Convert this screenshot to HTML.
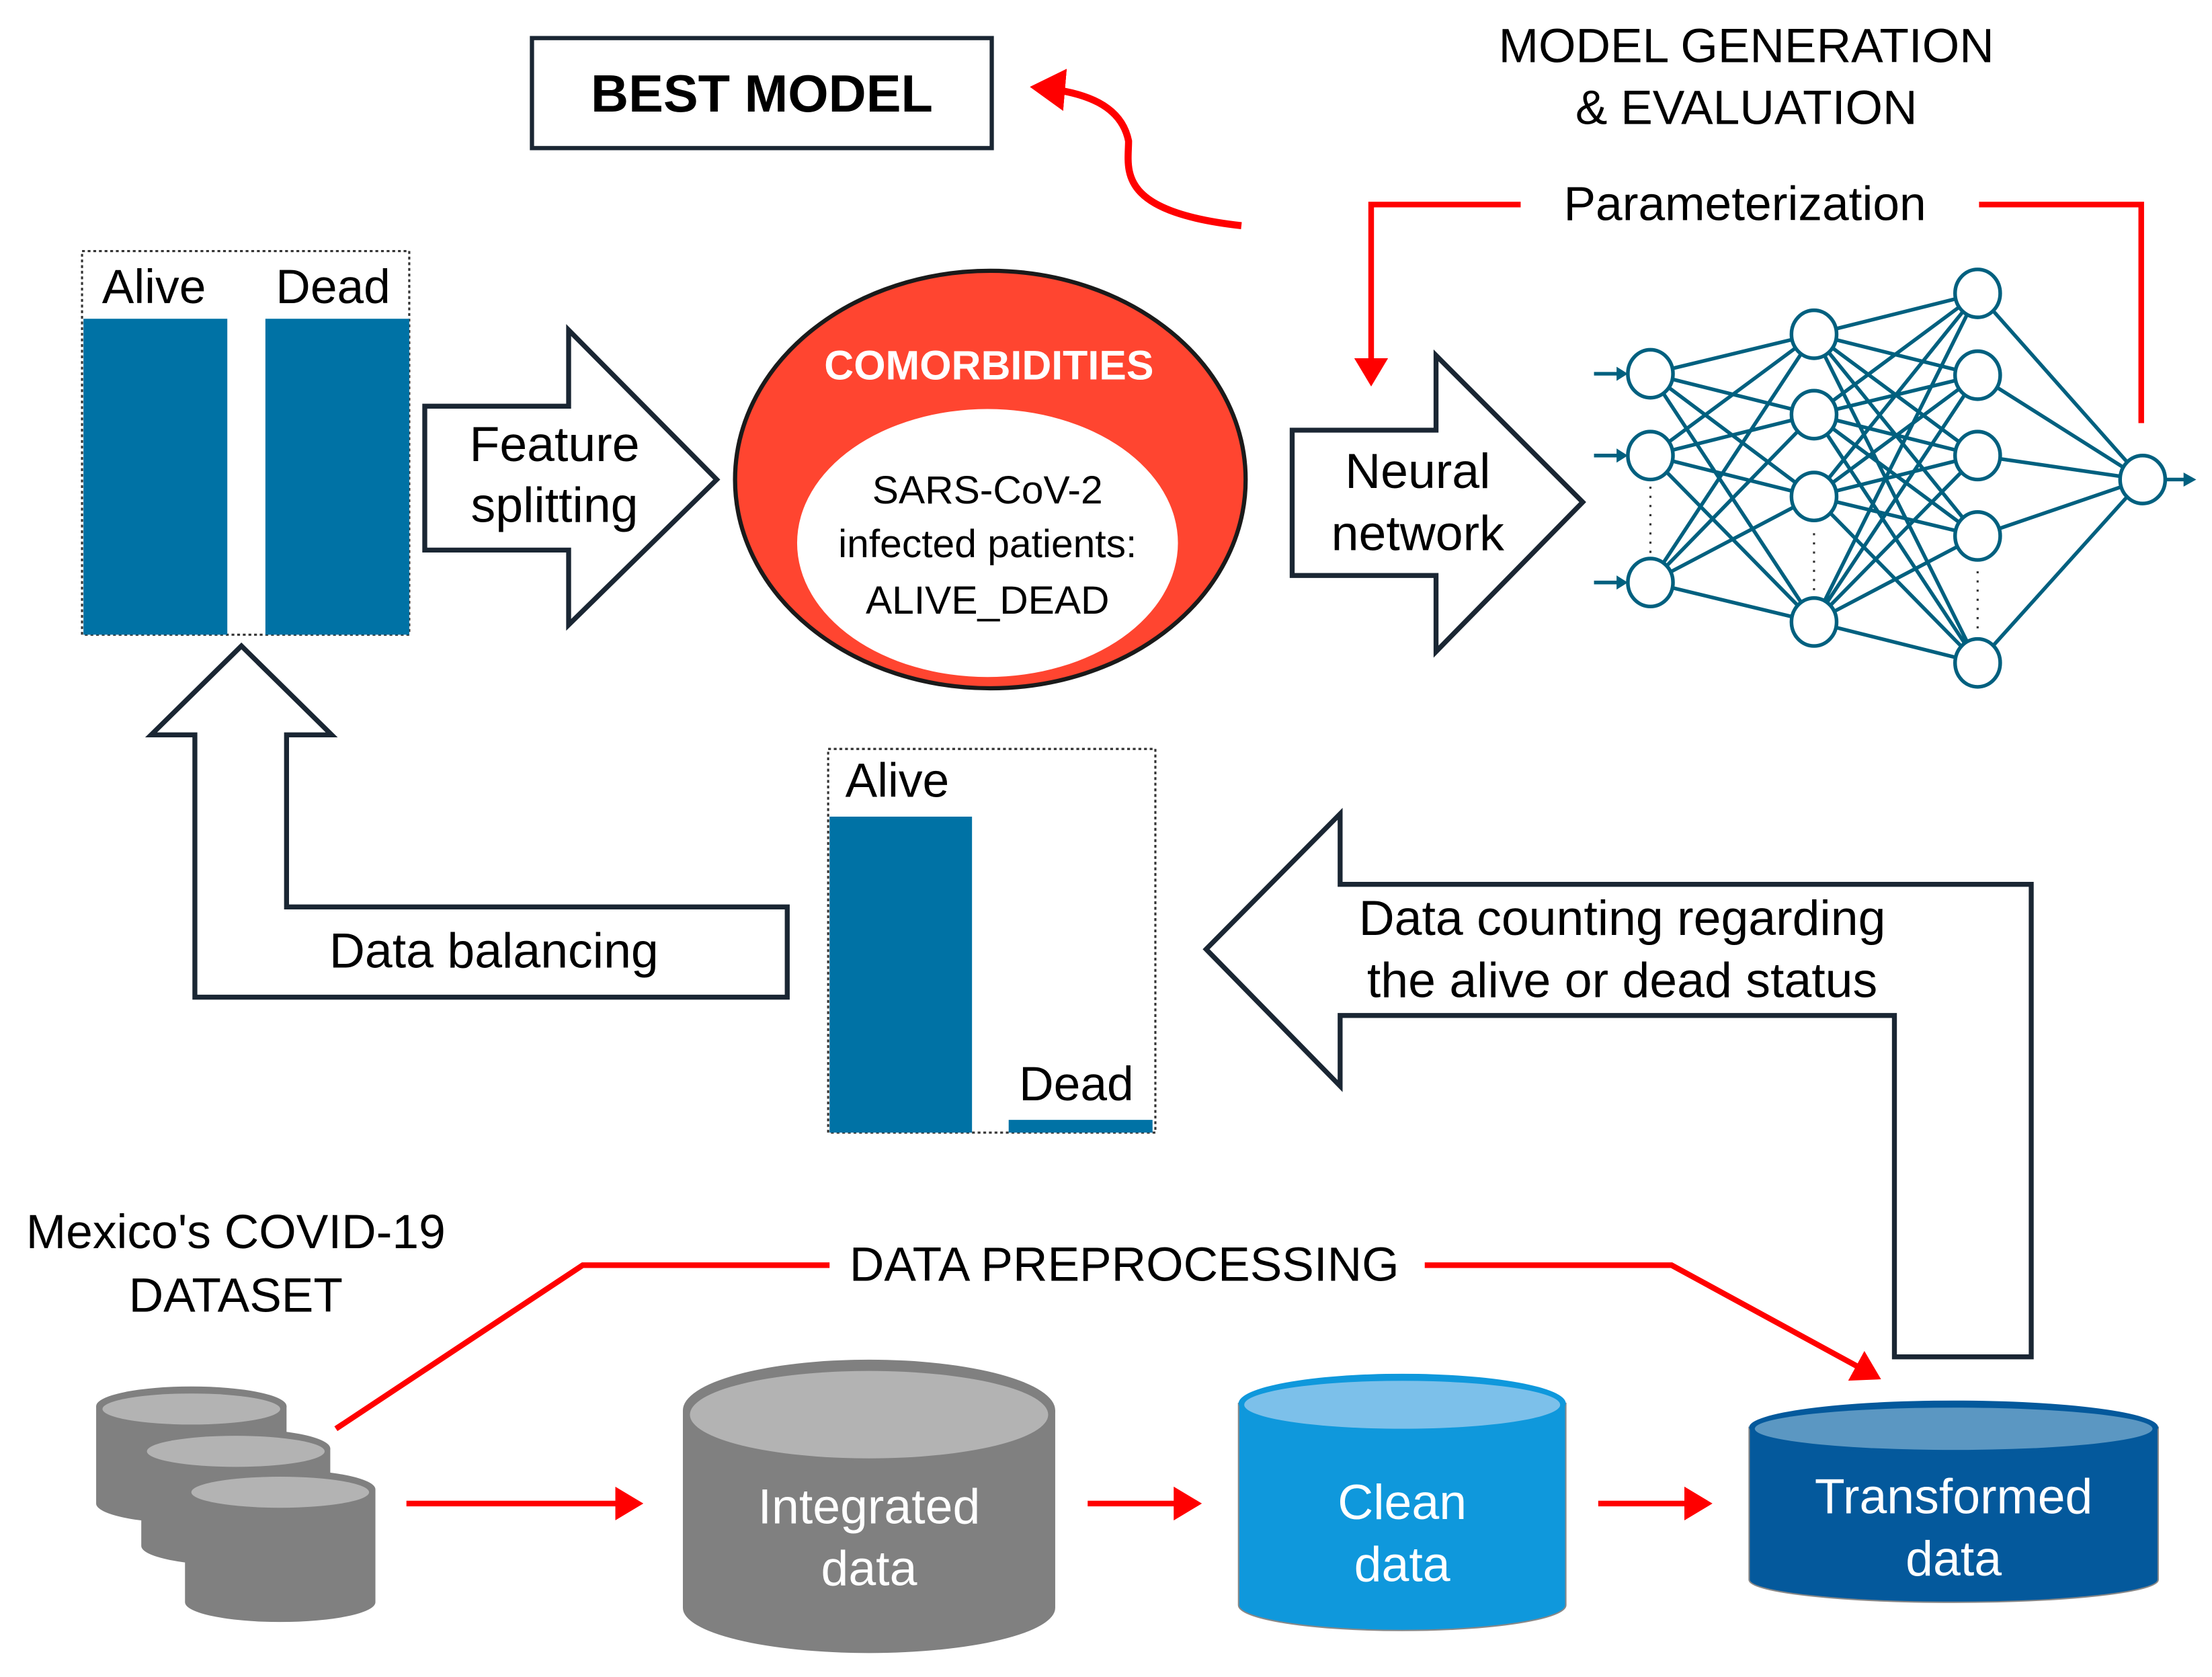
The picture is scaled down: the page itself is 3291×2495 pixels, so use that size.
<!DOCTYPE html>
<html><head><meta charset="utf-8"><style>html,body{margin:0;padding:0;background:#fff}svg{display:block}</style></head>
<body>
<svg width="3291" height="2495" viewBox="0 0 1568 1189" xmlns="http://www.w3.org/2000/svg" font-family="Liberation Sans, sans-serif">
<defs>
<marker id="ra" markerWidth="6" markerHeight="6" refX="4" refY="3" orient="auto" markerUnits="strokeWidth"><path d="M0,0 L5,3 L0,6 z" fill="#f00"/></marker>
</defs>
<!-- top titles -->
<text x="1238" y="44" font-size="34" text-anchor="middle">MODEL GENERATION</text>
<text x="1238" y="88" font-size="34" text-anchor="middle">&amp; EVALUATION</text>
<rect x="377" y="27" width="326" height="78" fill="#fff" stroke="#1a2633" stroke-width="3"/>
<text x="540" y="79" font-size="37" font-weight="bold" text-anchor="middle">BEST MODEL</text>
<path d="M880,160 C790,150 800,120 800,100 C795,75 770,65 735,62" fill="none" stroke="#f00" stroke-width="5" marker-end="url(#ra)"/>
<text x="1237" y="156" font-size="34" text-anchor="middle">Parameterization</text>
<path d="M1078,145 L972,145 L972,270" fill="none" stroke="#f00" stroke-width="4" marker-end="url(#ra)"/>
<path d="M1403,145 L1518,145 L1518,300" fill="none" stroke="#f00" stroke-width="4"/>
<!-- bar chart 1 -->
<rect x="58" y="178" width="232" height="272" fill="#fff" stroke="#333" stroke-width="1.5" stroke-dasharray="2,2"/>
<rect x="59" y="226" width="102" height="224" fill="#0072a5"/>
<rect x="188" y="226" width="102" height="224" fill="#0072a5"/>
<text x="109" y="215" font-size="34" text-anchor="middle">Alive</text>
<text x="236" y="215" font-size="34" text-anchor="middle">Dead</text>
<!-- feature splitting arrow -->
<polygon points="301,288 403,288 403,234 508,340 403,443 403,390 301,390" fill="#fff" stroke="#1a2633" stroke-width="3.5"/>
<text x="393" y="327" font-size="35" text-anchor="middle">Feature</text>
<text x="393" y="370" font-size="35" text-anchor="middle">splitting</text>
<!-- comorbidities -->
<ellipse cx="702" cy="340" rx="181" ry="148" fill="#ff4530" stroke="#1a1a1a" stroke-width="3"/>
<ellipse cx="700" cy="385" rx="135" ry="95" fill="#fff"/>
<text x="701" y="269" font-size="29" font-weight="bold" fill="#fff" text-anchor="middle">COMORBIDITIES</text>
<text x="700" y="357" font-size="28" text-anchor="middle">SARS-CoV-2</text>
<text x="700" y="395" font-size="28" text-anchor="middle">infected patients:</text>
<text x="700" y="435" font-size="28" text-anchor="middle">ALIVE_DEAD</text>
<!-- neural network arrow -->
<polygon points="916,305 1018,305 1018,252 1122,356 1018,462 1018,408 916,408" fill="#fff" stroke="#1a2633" stroke-width="3.5"/>
<text x="1005" y="346" font-size="35" text-anchor="middle">Neural</text>
<text x="1005" y="390" font-size="35" text-anchor="middle">network</text>
<!-- NN -->
<g stroke="#00607f" stroke-width="2.6" fill="none">
<path d="M1170,265 L1286,237 M1170,265 L1286,294 M1170,265 L1286,352 M1170,265 L1286,441 M1170,323 L1286,237 M1170,323 L1286,294 M1170,323 L1286,352 M1170,323 L1286,441 M1170,413 L1286,237 M1170,413 L1286,294 M1170,413 L1286,352 M1170,413 L1286,441"/>
<path d="M1286,237 L1402,208 M1286,237 L1402,266 M1286,237 L1402,323 M1286,237 L1402,380 M1286,237 L1402,470 M1286,294 L1402,208 M1286,294 L1402,266 M1286,294 L1402,323 M1286,294 L1402,380 M1286,294 L1402,470 M1286,352 L1402,208 M1286,352 L1402,266 M1286,352 L1402,323 M1286,352 L1402,380 M1286,352 L1402,470 M1286,441 L1402,208 M1286,441 L1402,266 M1286,441 L1402,323 M1286,441 L1402,380 M1286,441 L1402,470"/>
<path d="M1402,208 L1519,340 M1402,266 L1519,340 M1402,323 L1519,340 M1402,380 L1519,340 M1402,470 L1519,340"/>
<path d="M1130,265 L1148,265 M1130,323 L1148,323 M1130,413 L1148,413 M1535,340 L1550,340"/>
</g>
<g fill="#00607f">
<path d="M1146,260 L1154,265 L1146,270 z"/><path d="M1146,318 L1154,323 L1146,328 z"/><path d="M1146,408 L1154,413 L1146,418 z"/><path d="M1548,335 L1557,340 L1548,345 z"/>
</g>
<g fill="#fff" stroke="#00607f" stroke-width="2.6">
<ellipse cx="1170" cy="265" rx="16" ry="17"/><ellipse cx="1170" cy="323" rx="16" ry="17"/><ellipse cx="1170" cy="413" rx="16" ry="17"/>
<ellipse cx="1286" cy="237" rx="16" ry="17"/><ellipse cx="1286" cy="294" rx="16" ry="17"/><ellipse cx="1286" cy="352" rx="16" ry="17"/><ellipse cx="1286" cy="441" rx="16" ry="17"/>
<ellipse cx="1402" cy="208" rx="16" ry="17"/><ellipse cx="1402" cy="266" rx="16" ry="17"/><ellipse cx="1402" cy="323" rx="16" ry="17"/><ellipse cx="1402" cy="380" rx="16" ry="17"/><ellipse cx="1402" cy="470" rx="16" ry="17"/>
<ellipse cx="1519" cy="340" rx="16" ry="17"/>
</g>
<g stroke="#333" stroke-width="1.5" stroke-dasharray="1.5,5"><path d="M1170,345 L1170,392 M1286,378 L1286,420 M1402,405 L1402,450"/></g>
<!-- data balancing -->
<polygon points="138,707 138,521 107,521 171,458 235,521 203,521 203,643 558,643 558,707" fill="#fff" stroke="#1a2633" stroke-width="3.5"/>
<text x="350" y="686" font-size="35" text-anchor="middle">Data balancing</text>
<!-- bar chart 2 -->
<rect x="587" y="531" width="232" height="272" fill="#fff" stroke="#333" stroke-width="1.5" stroke-dasharray="2,2"/>
<rect x="588" y="579" width="101" height="224" fill="#0072a5"/>
<rect x="715" y="794" width="102" height="9" fill="#0072a5"/>
<text x="636" y="565" font-size="34" text-anchor="middle">Alive</text>
<text x="763" y="780" font-size="34" text-anchor="middle">Dead</text>
<!-- data counting arrow -->
<polygon points="855,673 950,577 950,627 1440,627 1440,962 1343,962 1343,720 950,720 950,770" fill="#fff" stroke="#1a2633" stroke-width="3.5"/>
<text x="1150" y="663" font-size="35" text-anchor="middle">Data counting regarding</text>
<text x="1150" y="707" font-size="35" text-anchor="middle">the alive or dead status</text>
<!-- preprocessing -->
<text x="167" y="885" font-size="34" text-anchor="middle">Mexico's COVID-19</text>
<text x="167" y="930" font-size="34" text-anchor="middle">DATASET</text>
<text x="797" y="908" font-size="34" text-anchor="middle">DATA PREPROCESSING</text>
<path d="M238,1013 L413,897 L588,897" fill="none" stroke="#f00" stroke-width="4"/>
<path d="M1010,897 L1185,897 L1330,976" fill="none" stroke="#f00" stroke-width="4" marker-end="url(#ra)"/>
<!-- cylinders -->
<g>
<path d="M68,997 L68,1066 A67,14 0 0 0 203,1066 L203,997 Z" fill="#808080"/><ellipse cx="135.5" cy="997" rx="67.5" ry="14" fill="#808080"/><ellipse cx="135.5" cy="999" rx="63" ry="11" fill="#b3b3b3"/>
<path d="M100,1027 L100,1096 A67,14 0 0 0 234,1096 L234,1027 Z" fill="#808080"/><ellipse cx="167" cy="1027" rx="67" ry="14" fill="#808080"/><ellipse cx="167" cy="1029" rx="63" ry="11" fill="#b3b3b3"/>
<path d="M131,1056 L131,1136 A67.5,14 0 0 0 266,1136 L266,1056 Z" fill="#808080"/><ellipse cx="198.5" cy="1056" rx="67.5" ry="14" fill="#808080"/><ellipse cx="198.5" cy="1058" rx="63" ry="11" fill="#b3b3b3"/>
</g>
<path d="M484,1000 L484,1140 A132,32 0 0 0 748,1140 L748,1000 Z" fill="#808080"/>
<ellipse cx="616" cy="1000" rx="132" ry="36" fill="#808080"/><ellipse cx="616" cy="1003" rx="127" ry="31" fill="#b3b3b3"/>
<text x="616" y="1080" font-size="35" fill="#fff" text-anchor="middle">Integrated</text>
<text x="616" y="1124" font-size="35" fill="#fff" text-anchor="middle">data</text>
<path d="M878,995 L878,1138 A116,18 0 0 0 1110,1138 L1110,995 Z" fill="#0f98dc" stroke="#888" stroke-width="1"/>
<ellipse cx="994" cy="995" rx="116" ry="21" fill="#0f98dc"/><ellipse cx="994" cy="996" rx="112" ry="17" fill="#7cc0ea"/>
<text x="994" y="1077" font-size="35" fill="#fff" text-anchor="middle">Clean</text>
<text x="994" y="1121" font-size="35" fill="#fff" text-anchor="middle">data</text>
<path d="M1240,1012 L1240,1120 A145,16 0 0 0 1530,1120 L1530,1012 Z" fill="#04599c" stroke="#888" stroke-width="1"/>
<ellipse cx="1385" cy="1012" rx="145" ry="19" fill="#04599c"/><ellipse cx="1385" cy="1013" rx="141" ry="15" fill="#5b97c2"/>
<text x="1385" y="1073" font-size="35" fill="#fff" text-anchor="middle">Transformed</text>
<text x="1385" y="1117" font-size="35" fill="#fff" text-anchor="middle">data</text>
<g stroke="#f00" stroke-width="4" fill="none">
<path d="M288,1066 L452,1066" marker-end="url(#ra)"/>
<path d="M771,1066 L848,1066" marker-end="url(#ra)"/>
<path d="M1133,1066 L1210,1066" marker-end="url(#ra)"/>
</g>
</svg>
</body></html>
